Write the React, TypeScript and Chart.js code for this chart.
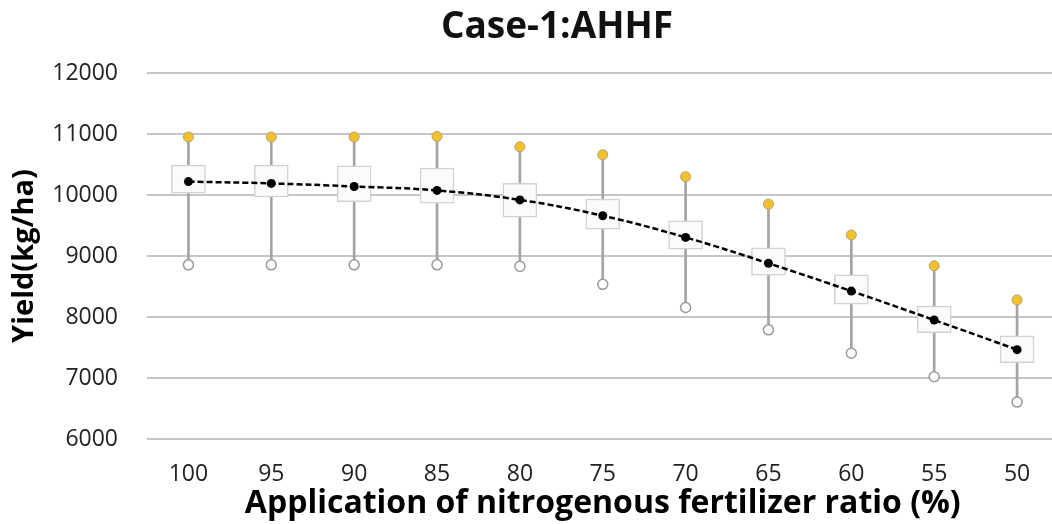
import React, { useEffect, useRef } from 'react';
import { Chart, registerables } from 'chart.js';

Chart.register(...registerables);

const categories = ['100', '95', '90', '85', '80', '75', '70', '65', '60', '55', '50'];
const maxValues = [10950, 10950, 10950, 10960, 10790, 10660, 10300, 9850, 9345, 8840, 8280];
const minValues = [8855, 8855, 8855, 8855, 8830, 8535, 8155, 7790, 7405, 7020, 6605];
const meanValues = [10220, 10190, 10140, 10075, 9920, 9660, 9305, 8880, 8425, 7950, 7465];
const q3Values = [10490, 10490, 10480, 10440, 10190, 9935, 9575, 9135, 8690, 8180, 7690];
const q1Values = [10030, 9970, 9890, 9865, 9635, 9440, 9110, 8685, 8210, 7745, 7250];
const yMin = 6000;
const yMax = 12000;
const yStep = 1000;

const chartTitle = 'Case-1:AHHF';
const xTitle = 'Application of nitrogenous fertilizer ratio (%)';
const yTitle = 'Yield(kg/ha)';

const FONT = '"Open Sans", "Noto Sans", "DejaVu Sans", sans-serif';
const CANVAS_W = 1065;
const CANVAS_H = 524;

const titlePlugin = {
  id: 'customTitle',
  afterDraw(chart: any) {
    const ctx = chart.ctx;
    ctx.save();
    ctx.font = `bold 37px ${FONT}`;
    ctx.fillStyle = '#111111';
    ctx.textAlign = 'center';
    ctx.textBaseline = 'alphabetic';
    ctx.fillText(chartTitle, 557, 38);
    ctx.restore();
  },
};

export default function App() {
  const canvasRef = useRef<HTMLCanvasElement | null>(null);

  useEffect(() => {
    document.body.style.margin = '0';
    document.body.style.overflow = 'hidden';
    const canvas = canvasRef.current;
    if (!canvas) return;
    const chart = new Chart(canvas, {
      type: 'bar',
      data: {
        labels: categories,
        datasets: [
          {
            type: 'line',
            data: meanValues,
            borderColor: '#000000',
            borderWidth: 2.5,
            borderDash: [6, 3],
            tension: 0.4,
            pointRadius: 4.5,
            pointBackgroundColor: '#000000',
            pointBorderColor: '#000000',
            pointBorderWidth: 0,
            order: 1,
          } as any,
          {
            type: 'line',
            data: maxValues,
            showLine: false,
            pointRadius: 5,
            pointBackgroundColor: '#f2c12e',
            pointBorderColor: '#b8a070',
            pointBorderWidth: 1,
            order: 2,
          } as any,
          {
            type: 'line',
            data: minValues,
            showLine: false,
            pointRadius: 5,
            pointBackgroundColor: '#ffffff',
            pointBorderColor: '#9a9a9a',
            pointBorderWidth: 1.5,
            order: 3,
          } as any,
          {
            type: 'bar',
            data: categories.map((_, i) => [q1Values[i], q3Values[i]]),
            backgroundColor: '#fbfbfb',
            borderColor: '#d2d2d2',
            borderWidth: 1.5,
            borderSkipped: false,
            barThickness: 34,
            grouped: false,
            order: 4,
          } as any,
          {
            type: 'bar',
            data: categories.map((_, i) => [minValues[i], maxValues[i]]),
            backgroundColor: '#a4a4a4',
            borderWidth: 0,
            barThickness: 2,
            grouped: false,
            order: 5,
          } as any,
        ],
      },
      options: {
        responsive: false,
        animation: false,
        devicePixelRatio: 1,
        events: [],
        layout: { padding: { top: 73, right: 0, left: 0, bottom: 0 } },
        plugins: {
          legend: { display: false },
          title: { display: false },
          tooltip: { enabled: false },
        },
        scales: {
          x: {
            type: 'category',
            offset: true,
            grid: { display: false, drawTicks: false },
            border: { display: false },
            ticks: {
              font: { family: FONT, size: 23 },
              color: '#222222',
              padding: 22,
              maxRotation: 0,
              autoSkip: false,
            },
            title: {
              display: true,
              text: xTitle,
              font: { family: FONT, size: 32, weight: 'bold' },
              color: '#000000',
              padding: { top: 0, bottom: 1 },
            },
            afterFit(scale: any) {
              scale.height = 85;
            },
          },
          y: {
            min: yMin,
            max: yMax,
            grid: { color: '#c6c6c6', lineWidth: 2, drawTicks: false },
            border: { display: false },
            ticks: {
              stepSize: yStep,
              font: { family: FONT, size: 23 },
              color: '#222222',
              padding: 29,
              callback: (v: any) => String(v),
            },
            title: {
              display: true,
              text: yTitle,
              font: { family: FONT, size: 29, weight: 'bold' },
              color: '#000000',
              padding: { top: 7, bottom: 0 },
            },
            afterFit(scale: any) {
              scale.width = 147;
            },
          },
        },
      } as any,
      plugins: [titlePlugin],
    });
    return () => chart.destroy();
  }, []);

  return (
    <div style={{ position: 'fixed', left: 0, top: 0, width: CANVAS_W, height: CANVAS_H, background: '#ffffff' }}>
      <canvas ref={canvasRef} width={CANVAS_W} height={CANVAS_H} style={{ display: 'block' }} />
    </div>
  );
}
